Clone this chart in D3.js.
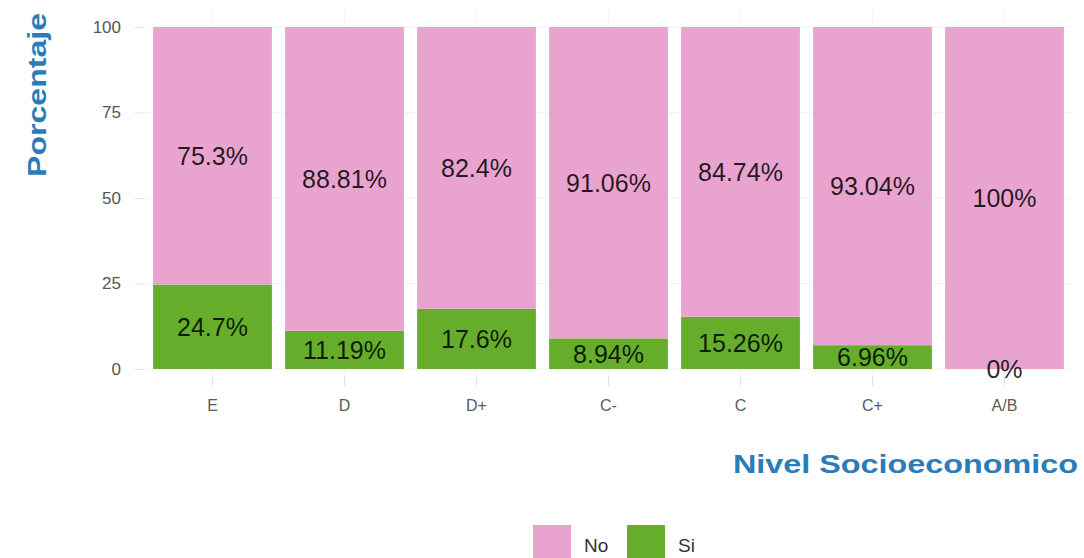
<!DOCTYPE html>
<html>
<head>
<meta charset="utf-8">
<script src="https://cdn.jsdelivr.net/npm/d3@7"></script>
<style>
  body { margin: 0; background: #fff; }
  svg { display: block; font-family: "Liberation Sans", Arial, sans-serif; }
</style>
</head>
<body>
<svg id="chart" width="1084" height="558"></svg>
<script>
// data
const categories = ["E", "D", "D+", "C-", "C", "C+", "A/B"];
const noValues = [75.3, 88.81, 82.4, 91.06, 84.74, 93.04, 100];
const siValues = [24.7, 11.19, 17.6, 8.94, 15.26, 6.96, 0];
const yTicks = [0, 25, 50, 75, 100];
const legendKeys = ["No", "Si"];

const colors = { No: "#e9a3cf", Si: "#65ad2b" };
const titleBlue = "#2b7cb9";

const svg = d3.select("svg#chart");

const x = d3.scaleBand()
    .domain(categories)
    .range([146.5, 1070.5])
    .paddingInner(0.1)
    .paddingOuter(0.05);

const y = d3.scaleLinear()
    .domain([0, 100])
    .range([369, 27]);

const panelTop = y(105), panelBottom = y(-5);

// grid (very faint, like theme_minimal)
const grid = svg.append("g");
grid.selectAll("line.h")
    .data(yTicks)
    .join("line")
    .attr("x1", 146).attr("x2", 1071)
    .attr("y1", d => y(d)).attr("y2", d => y(d))
    .attr("stroke", "#f3f3f3").attr("stroke-width", 1);
grid.selectAll("line.v")
    .data(categories)
    .join("line")
    .attr("x1", d => x(d) + x.bandwidth() / 2).attr("x2", d => x(d) + x.bandwidth() / 2)
    .attr("y1", panelTop).attr("y2", panelBottom)
    .attr("stroke", "#f3f3f3").attr("stroke-width", 1);

// stacked data
const rows = categories.map((c, i) => ({ cat: c, No: noValues[i], Si: siValues[i] }));
const stack = d3.stack().keys(["Si", "No"]);
const series = stack(rows);

svg.append("g").selectAll("g")
    .data(series)
    .join("g")
    .attr("fill", s => colors[s.key])
    .selectAll("rect")
    .data(s => s)
    .join("rect")
    .attr("x", d => x(d.data.cat))
    .attr("width", x.bandwidth())
    .attr("y", d => y(d[1]))
    .attr("height", d => y(d[0]) - y(d[1]));

// labels in the middle of each segment
svg.append("g").selectAll("g")
    .data(series)
    .join("g")
    .selectAll("text")
    .data(s => s)
    .join("text")
    .attr("x", d => x(d.data.cat) + x.bandwidth() / 2)
    .attr("y", d => y((d[0] + d[1]) / 2))
    .attr("text-anchor", "middle")
    .attr("dominant-baseline", "central")
    .attr("font-size", 25)
    .attr("fill", "rgba(0,0,0,0.85)")
    .text(d => (d[1] - d[0]) + "%");

// y axis
const yAxis = svg.append("g")
    .attr("transform", "translate(143,0)")
    .call(d3.axisLeft(y).tickValues(yTicks).tickSize(8).tickPadding(14));
yAxis.select(".domain").remove();
yAxis.selectAll(".tick line").attr("stroke", "#dedede");
yAxis.selectAll(".tick text").attr("font-size", 17).attr("fill", "#555").attr("font-family", null);

// x axis
const xAxis = svg.append("g")
    .attr("transform", `translate(0,${panelBottom - 8})`)
    .call(d3.axisBottom(x).tickSize(7).tickPadding(15));
xAxis.select(".domain").remove();
xAxis.selectAll(".tick line").attr("stroke", "#dedede");
xAxis.selectAll(".tick text").attr("font-size", 16).attr("fill", "#5a5a5a").attr("font-family", null);

// axis titles
svg.append("text")
    .attr("transform", "translate(46,13) rotate(-90)")
    .attr("text-anchor", "end")
    .attr("font-size", 26)
    .attr("font-weight", "bold")
    .attr("fill", titleBlue)
    .attr("textLength", 164)
    .attr("lengthAdjust", "spacingAndGlyphs")
    .text("Porcentaje");

svg.append("text")
    .attr("x", 1078)
    .attr("y", 473)
    .attr("text-anchor", "end")
    .attr("font-size", 26)
    .attr("font-weight", "bold")
    .attr("fill", titleBlue)
    .attr("textLength", 345)
    .attr("lengthAdjust", "spacingAndGlyphs")
    .text("Nivel Socioeconomico");

// legend
const legendX = d3.scaleOrdinal().domain(legendKeys).range([533, 627]);
const legend = svg.append("g").selectAll("g")
    .data(legendKeys)
    .join("g")
    .attr("transform", d => `translate(${legendX(d)},525)`);
legend.append("rect")
    .attr("width", 38).attr("height", 38)
    .attr("fill", d => colors[d]);
legend.append("text")
    .attr("x", 51).attr("y", 27)
    .attr("font-size", 19)
    .attr("fill", "#333")
    .text(d => d);
</script>
</body>
</html>
